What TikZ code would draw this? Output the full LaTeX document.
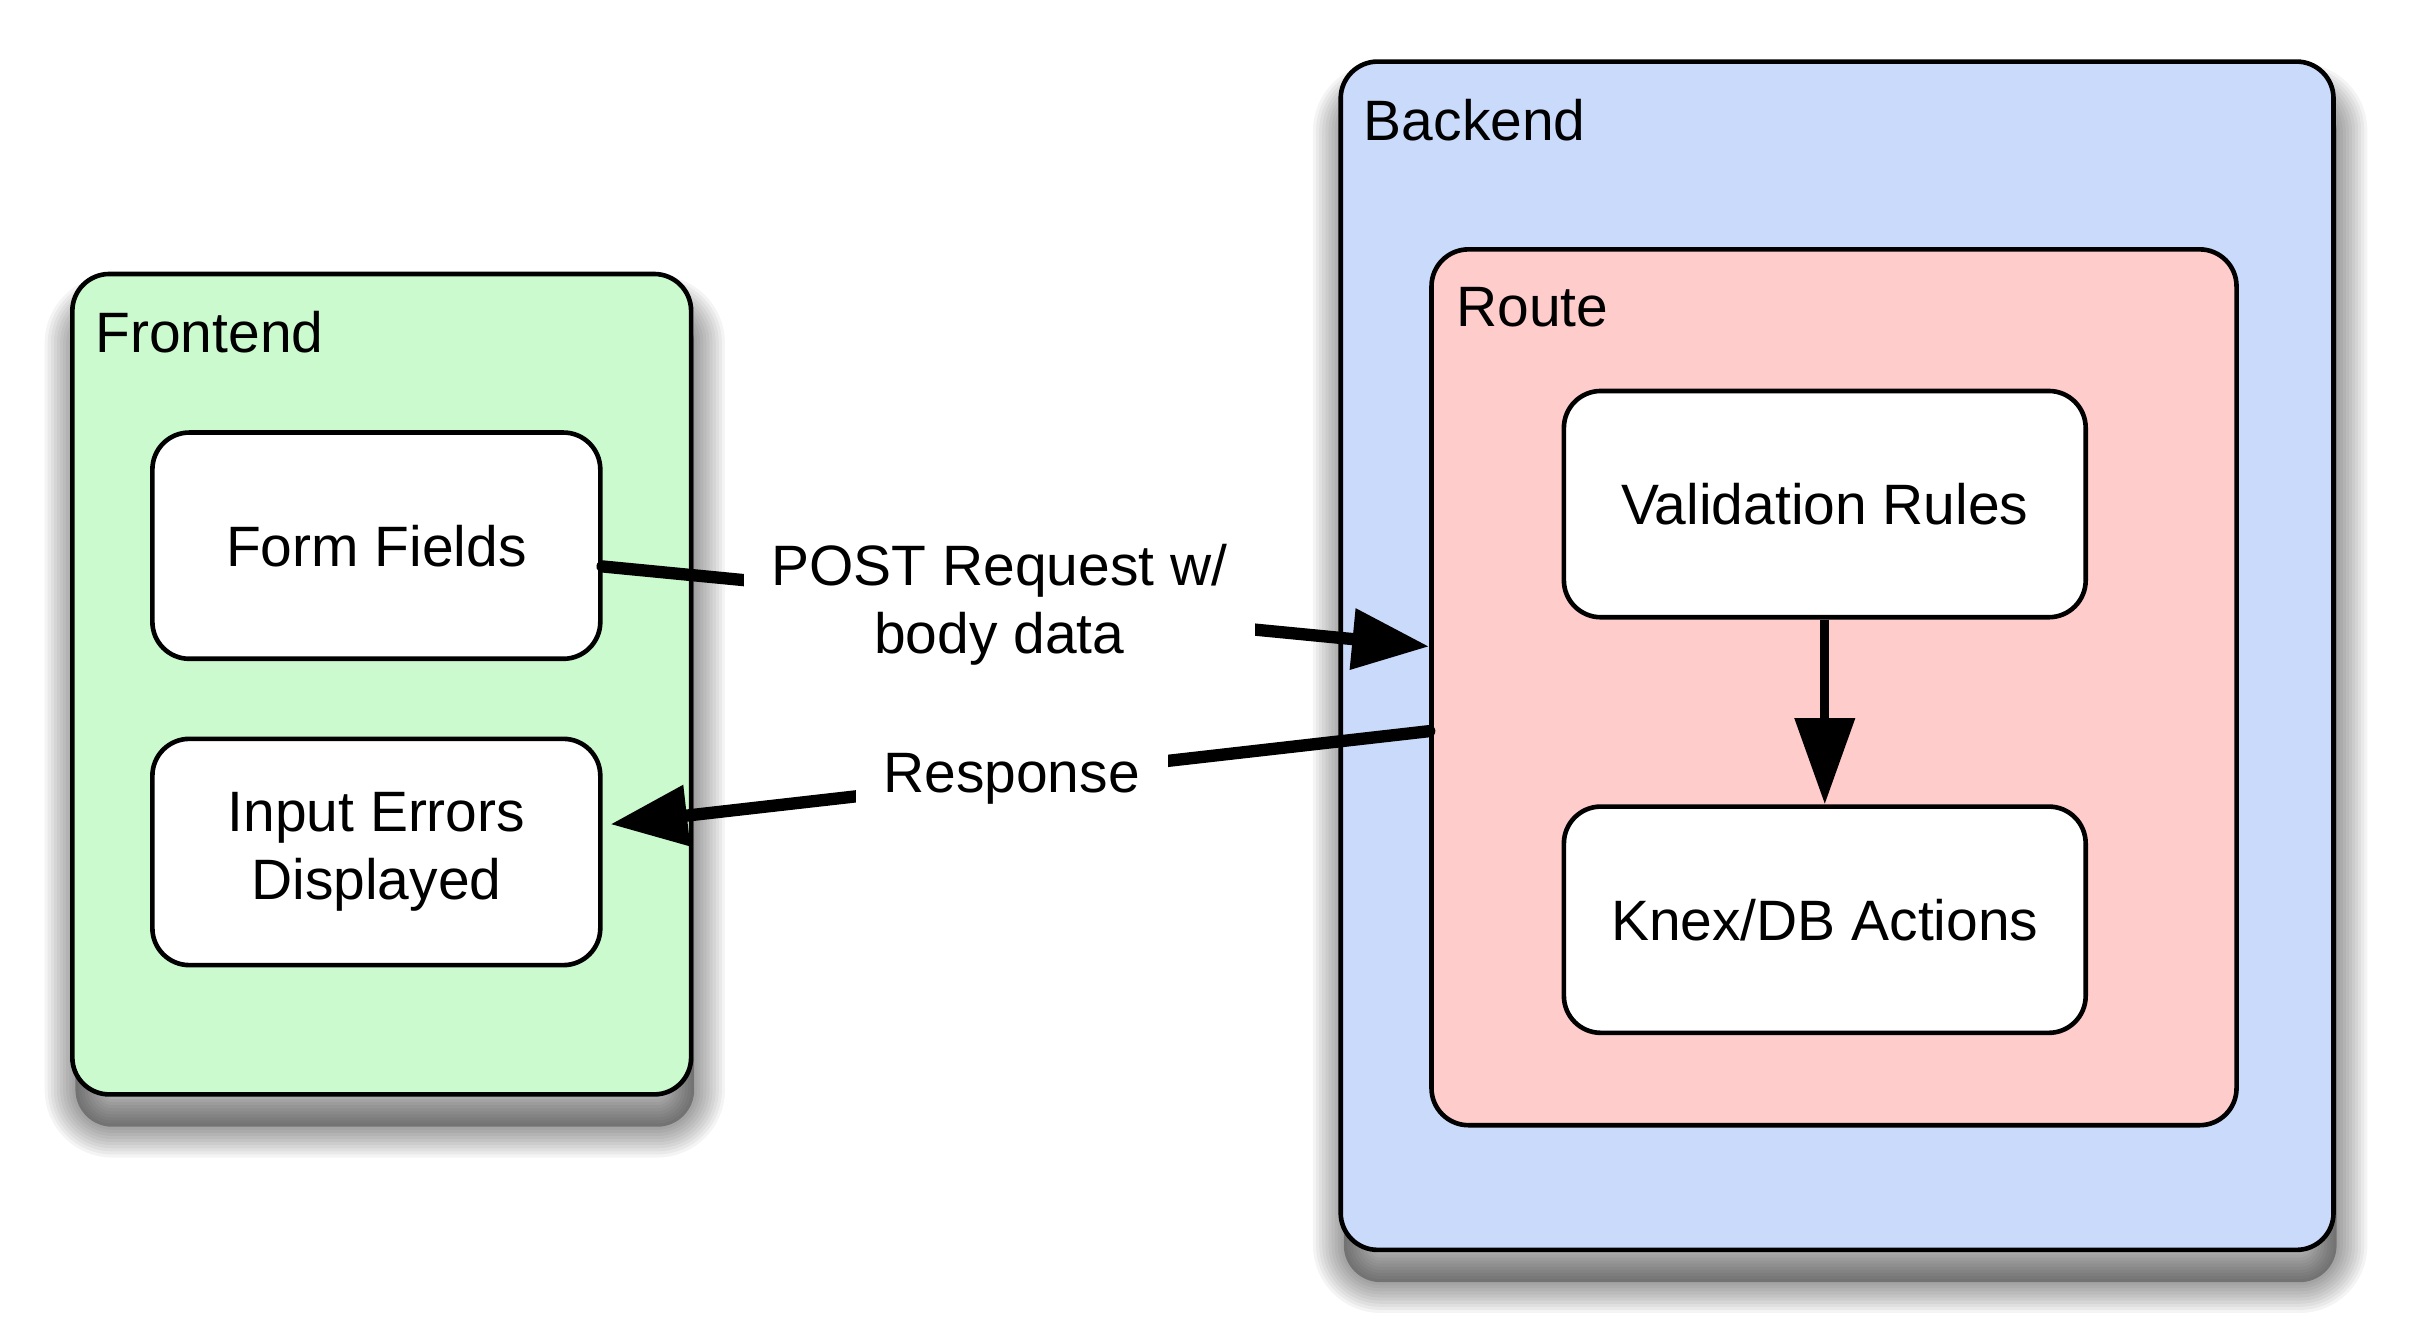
\documentclass[tikz,border=0pt]{standalone}
\usepackage{fontspec}
\setmainfont{Liberation Sans}
\usetikzlibrary{arrows.meta}
\definecolor{feGreen}{RGB}{204,250,207}
\definecolor{beBlue}{RGB}{202,218,250}
\definecolor{rtPink}{RGB}{255,204,204}

\begin{document}
\begin{tikzpicture}[x=0.5pt,y=-0.5pt,
    txt/.style={font=\fontsize{18.5}{22}\selectfont},
    box/.style={txt, draw=black, line width=1.5pt, rounded corners=12pt, inner sep=0pt, align=center},
    blur/.style={preaction={draw=black, opacity=0.045, line width=#1, transform canvas={xshift=1pt, yshift=-10.5pt}}},
    group/.style={box,
        preaction={fill=black, opacity=0.3, transform canvas={xshift=1pt, yshift=-10.5pt}},
        blur=2pt, blur=4pt, blur=6pt, blur=8pt, blur=10pt, blur=12pt, blur=14pt, blur=16pt, blur=18pt, blur=20pt},
    conn/.style={line width=4pt, line cap=round, -{Triangle[length=25pt,width=19pt]}},
    lbl/.style={txt, fill=white, inner xsep=9pt, inner ysep=2pt, align=center}]
        \useasboundingbox (0,0) rectangle (1567,867);

        % frontend
        \node[group, fill=feGreen, minimum width=201pt, minimum height=266.5pt] (fe) at (248,444.5) {};
        \node[txt, anchor=base west] (felbl) at (55,229) {Frontend};
        \node[box, fill=white, minimum width=145.5pt, minimum height=73.5pt] (ff) at (244.5,354.5) {Form Fields};
        \node[box, fill=white, minimum width=145.5pt, minimum height=73.5pt] (ie) at (244.5,553.5) {Input Errors\\Displayed};

        % backend
        \node[group, fill=beBlue, minimum width=322.5pt, minimum height=386pt] (be) at (1193.5,426) {};
        \node[txt, anchor=base west] (belbl) at (879,91) {Backend};
        \node[box, fill=rtPink, minimum width=261.5pt, minimum height=284.5pt] (rt) at (1191.5,446.5) {};
        \node[txt, anchor=base west] (rtlbl) at (939,212) {Route};
        \node[box, fill=white, minimum width=169.5pt, minimum height=73.5pt] (vr) at (1185.5,327.5) {Validation Rules};
        \node[box, fill=white, minimum width=169.5pt, minimum height=73.5pt] (kx) at (1185.5,597.5) {Knex/DB Actions};

        % requests
        \draw[conn] ([yshift=-6.75pt]ff.east) -- node[lbl, pos=0.48] (req) {POST Request w/\\body data} ([yshift=13.25pt]rt.west);
        \draw[conn] ([yshift=-14.25pt]rt.west) -- node[lbl, pos=0.51] (resp) {Response} ([xshift=2.5pt,yshift=9pt]ie.east);
        \draw[line width=3pt, -{Triangle[length=28pt,width=19pt]}] (vr.south) -- (kx.north);
    \end{tikzpicture}
\end{document}
